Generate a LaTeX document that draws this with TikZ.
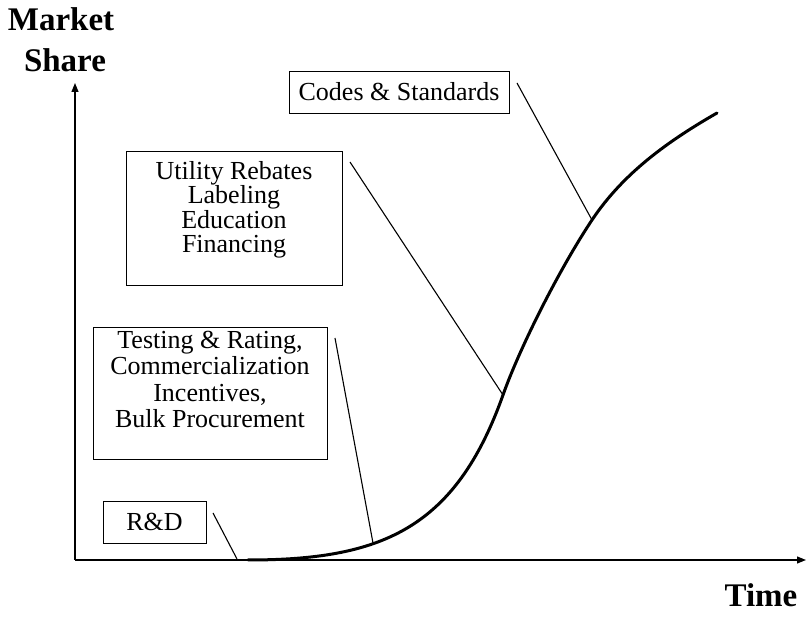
\documentclass[tikz,border=0pt]{standalone}
\usepackage{fontspec}
\setmainfont{Liberation Serif}
\usetikzlibrary{arrows.meta}
\tikzset{
  box/.style={draw, line width=0.9pt, inner sep=0pt},
  boxtext/.style={inner sep=0pt, align=center, font=\fontsize{26}{24.5}\selectfont},
  axis/.style={line width=1.2pt, -{Triangle[length=9pt,width=7pt]}},
  leader/.style={line width=1.1pt},
  curve/.style={line width=3pt, line cap=round},
  axlabel/.style={inner sep=0pt, font=\fontsize{33}{33}\selectfont\bfseries}
}
\begin{document}
\begin{tikzpicture}[x=1pt,y=-1pt]
\useasboundingbox (0,0) rectangle (807,617);
% axis labels
\node[axlabel, anchor=base] (market) at (61,31) {Market};
\node[axlabel, anchor=base] (share) at (65,72) {Share};
\node[axlabel, anchor=base] (time) at (761,607) {Time};
% axes
\coordinate (origin) at (75,560);
\coordinate (ytip) at (75,83);
\coordinate (xtip) at (806,560);
\draw[axis] (origin) -- (ytip);
\draw[axis] (origin) -- (xtip);
% curve
\coordinate (c0) at (248,560);
\coordinate (c1) at (503,395);
\coordinate (c2) at (592,220);
\coordinate (c3) at (717,113);
\draw[curve] (c0) .. controls (380,560) and (455,530) .. (c1)
  .. controls (520,347) and (560,268) .. (c2)
  .. controls (624,172) and (670,140) .. (c3);
% boxes
\node[box, boxtext, minimum width=220pt, minimum height=42pt] (codes) at (399,92) {Codes \& Standards};
\node[box, minimum width=216pt, minimum height=134pt] (util) at (234,218) {};
\node[boxtext, anchor=north] (utiltext) at (234,161) {Utility Rebates\\Labeling\\Education\\Financing};
\node[box, minimum width=234pt, minimum height=132pt] (test) at (210,393) {};
\node[boxtext, anchor=north, font=\fontsize{26}{26.5}\selectfont] (testtext) at (210,331) {Testing \& Rating,\\Commercialization\\Incentives,\\Bulk Procurement};
\node[box, boxtext, minimum width=103pt, minimum height=42pt] (rd) at (154.5,522) {R\&D};
% leader lines
\coordinate (rdA) at (213,513);   \coordinate (rdB) at (237,559);
\coordinate (teA) at (335,338);   \coordinate (teB) at (373,543);
\coordinate (utA) at (350,162);
\coordinate (coA) at (517,83);
\draw[leader] (rdA) -- (rdB);
\draw[leader] (teA) -- (teB);
\draw[leader] (utA) -- (c1);
\draw[leader] (coA) -- (c2);
\end{tikzpicture}
\end{document}
